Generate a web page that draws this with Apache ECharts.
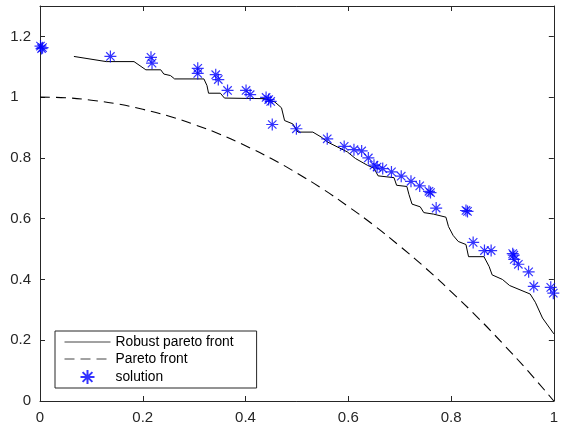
<!DOCTYPE html>
<html>
<head>
<meta charset="utf-8">
<script src="https://cdn.jsdelivr.net/npm/echarts@6/dist/echarts.min.js"></script>
<style>
  html, body { margin: 0; padding: 0; background: #fff; }
  #chart { width: 561px; height: 425px; }
</style>
</head>
<body>
<div id="chart"></div>
<script>
    // robust pareto front (staircase-like curve)
    var robustX = [0.066, 0.129, 0.183, 0.206, 0.235, 0.241, 0.254, 0.262, 0.319, 0.325, 0.328, 0.351, 0.359, 0.438,
        0.457, 0.470, 0.476, 0.492, 0.502, 0.531, 0.547, 0.560, 0.586, 0.598, 0.614, 0.637, 0.650, 0.658, 0.689,
        0.694, 0.714, 0.718, 0.724, 0.740, 0.747, 0.766, 0.790, 0.795, 0.804, 0.814, 0.829, 0.834, 0.864, 0.874,
        0.880, 0.900, 0.914, 0.954, 0.964, 0.978, 1.000];
    var robustY = [1.134, 1.117, 1.117, 1.090, 1.090, 1.076, 1.071, 1.060, 1.060, 1.038, 1.013, 1.013, 0.997, 0.995,
        0.984, 0.965, 0.923, 0.912, 0.885, 0.885, 0.869, 0.852, 0.830, 0.820, 0.798, 0.776, 0.766, 0.741, 0.735,
        0.710, 0.706, 0.680, 0.648, 0.639, 0.620, 0.615, 0.605, 0.574, 0.545, 0.525, 0.515, 0.475, 0.475, 0.443,
        0.415, 0.400, 0.380, 0.352, 0.325, 0.273, 0.221];

    // pareto front (dashed)
    var paretoX = [0, 0.05, 0.1, 0.15, 0.2, 0.25, 0.3, 0.35, 0.4, 0.45, 0.5, 0.55, 0.6, 0.65, 0.7, 0.75, 0.8, 0.85, 0.9, 0.95, 1];
    var paretoY = [1.000, 0.998, 0.990, 0.978, 0.960, 0.938, 0.910, 0.878, 0.840, 0.798, 0.750, 0.698, 0.640, 0.578,
        0.510, 0.438, 0.360, 0.278, 0.190, 0.098, 0.000];

    // solutions (asterisks)
    var solX = [0.001, 0.003, 0.005, 0.137, 0.216, 0.218, 0.307, 0.307, 0.342, 0.347, 0.365, 0.401, 0.409, 0.440,
        0.445, 0.449, 0.452, 0.499, 0.559, 0.592, 0.611, 0.626, 0.639, 0.650, 0.656, 0.667, 0.684, 0.703, 0.722,
        0.739, 0.757, 0.760, 0.771, 0.829, 0.832, 0.843, 0.865, 0.878, 0.920, 0.922, 0.923, 0.931, 0.951, 0.961,
        0.994, 0.999];
    var solY = [1.168, 1.160, 1.163, 1.134, 1.131, 1.112, 1.095, 1.078, 1.074, 1.058, 1.022, 1.022, 1.008, 0.999,
        0.992, 0.986, 0.910, 0.896, 0.863, 0.838, 0.827, 0.823, 0.800, 0.776, 0.770, 0.765, 0.754, 0.740, 0.723,
        0.708, 0.690, 0.686, 0.635, 0.627, 0.624, 0.522, 0.495, 0.495, 0.485, 0.480, 0.466, 0.450, 0.425, 0.377,
        0.374, 0.355];

    var legendNames = ['Robust pareto front', 'Pareto front', 'solution'];

    function pairs(xs, ys) {
        var out = [];
        for (var i = 0; i < xs.length; i++) {
            out.push([xs[i], ys[i]]);
        }
        return out;
    }

    var axisColor = '#262626';
    var font = 'Liberation Sans';
    var star = 'path://M0,5 L10,5 M5,0 L5,10 M1.5,1.5 L8.5,8.5 M8.5,1.5 L1.5,8.5';

    function baseAxis(extra) {
        var a = {
            type: 'value',
            axisLine: { show: true, onZero: false, lineStyle: { color: axisColor, width: 1 } },
            axisTick: { show: true, inside: true, length: 5, lineStyle: { color: axisColor } },
            splitLine: { show: false }
        };
        for (var k in extra) a[k] = extra[k];
        return a;
    }

    var chart = echarts.init(document.getElementById('chart'));

    // hide the circle ECharts puts on line legend icons
    var noDot = { color: 'rgba(0,0,0,0)', borderWidth: 0 };

    var option = {
        animation: false,
        backgroundColor: '#fff',
        grid: { left: 40, right: 2, top: 6, bottom: 22, containLabel: false },
        legend: {
            orient: 'vertical',
            left: 55,
            top: 331,
            padding: [4, 23, 3, 9],
            itemWidth: 46,
            itemHeight: 14,
            itemGap: 3,
            borderColor: axisColor,
            borderWidth: 1,
            borderRadius: 0,
            backgroundColor: '#fff',
            lineStyle: { width: 1, color: '#444' },
            textStyle: { fontFamily: font, fontSize: 13.8, color: '#000' },
            data: [
                { name: legendNames[0], itemStyle: noDot },
                { name: legendNames[1], itemStyle: noDot },
                { name: legendNames[2] }
            ]
        },
        xAxis: [
            baseAxis({
                min: 0, max: 1, interval: 0.2, position: 'bottom',
                axisLabel: {
                    fontFamily: font, fontSize: 15, color: axisColor, margin: 9,
                    formatter: function (v) { return String(+v.toFixed(1)); }
                }
            }),
            baseAxis({
                min: 0, max: 1, interval: 0.2, position: 'top',
                axisLabel: { show: false }
            })
        ],
        yAxis: [
            baseAxis({
                min: 0, max: 1.3, interval: 0.2, position: 'left',
                axisLabel: {
                    fontFamily: font, fontSize: 15, color: axisColor, margin: 9, showMaxLabel: false,
                    formatter: function (v) {
                        var s = String(+v.toFixed(1));
                        return s === '1' ? '1   ' : s;
                    }
                }
            }),
            baseAxis({
                min: 0, max: 1.3, interval: 0.2, position: 'right',
                axisLabel: { show: false }
            })
        ],
        series: [
            {
                name: legendNames[0],
                type: 'line',
                symbol: 'none',
                color: '#000',
                lineStyle: { color: '#000', width: 1 },
                data: pairs(robustX, robustY)
            },
            {
                name: legendNames[1],
                type: 'line',
                symbol: 'none',
                smooth: true,
                color: '#000',
                lineStyle: { color: '#000', width: 1.1, type: [10, 6] },
                data: pairs(paretoX, paretoY)
            },
            {
                name: legendNames[2],
                type: 'scatter',
                symbol: star,
                symbolSize: 12,
                itemStyle: { color: 'rgba(0,0,0,0)', borderColor: '#0000ff', borderWidth: 1.2 },
                data: pairs(solX, solY),
                z: 5
            }
        ]
    };

    chart.setOption(option);
</script>
</body>
</html>
